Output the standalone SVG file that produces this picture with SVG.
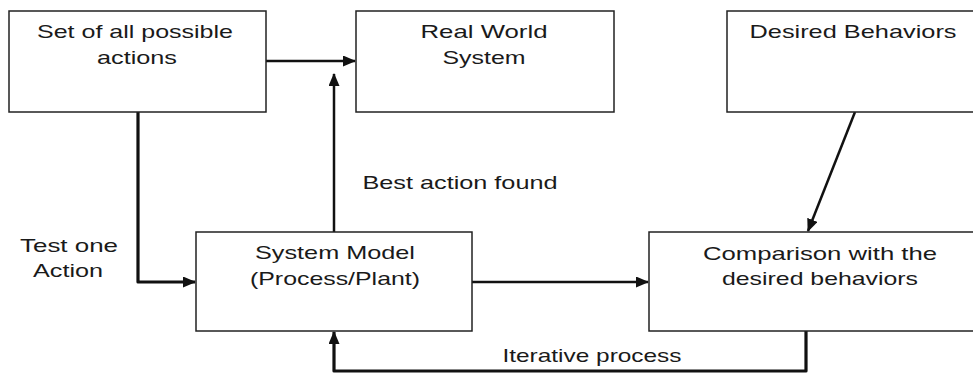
<svg xmlns="http://www.w3.org/2000/svg" width="973" height="374" viewBox="0 0 973 374">
  <style>
    .box { fill: #ffffff; stroke: #222222; stroke-width: 1.5; }
    .lbl { font-family: "Liberation Sans", Arial, sans-serif; font-size: 18.5px; fill: #1a1a1a; text-anchor: middle; }
    .wire { fill: none; stroke: #111111; stroke-width: 2.5; stroke-linejoin: round; }
    .heavy { stroke-width: 3.2; }
  </style>
  <defs>
    <marker id="head" viewBox="0 0 13 11" refX="12" refY="5.5" markerWidth="13" markerHeight="11" markerUnits="userSpaceOnUse" orient="auto">
      <path d="M0,0 L13,5.5 L0,11 Z" fill="#111111"/>
    </marker>
  </defs>
  <rect width="973" height="374" fill="#ffffff"/>

  <!-- arrows between the blocks -->
  <g id="connectors">
    <path class="wire" d="M263,61 H355" marker-end="url(#head)"/>
    <path class="wire" d="M334,232 V74" marker-end="url(#head)"/>
    <path class="wire heavy" d="M138,112 V282 H195" marker-end="url(#head)"/>
    <path class="wire" d="M472,282 H648" marker-end="url(#head)"/>
    <path class="wire heavy" d="M806,331 V371 H334 V332" marker-end="url(#head)"/>
    <path class="wire" d="M855,112 L808,231" marker-end="url(#head)"/>
  </g>

  <g id="actions-set">
    <rect class="box" x="9" y="11" width="257" height="101"/>
    <text class="lbl" x="135" y="38" textLength="196" lengthAdjust="spacingAndGlyphs">Set of all possible</text>
    <text class="lbl" x="137" y="64" textLength="80" lengthAdjust="spacingAndGlyphs">actions</text>
  </g>

  <g id="real-world">
    <rect class="box" x="356" y="11" width="258" height="101"/>
    <text class="lbl" x="484" y="38" textLength="127" lengthAdjust="spacingAndGlyphs">Real World</text>
    <text class="lbl" x="484" y="64" textLength="83" lengthAdjust="spacingAndGlyphs">System</text>
  </g>

  <g id="desired">
    <rect class="box" x="727" y="11" width="260" height="101"/>
    <text class="lbl" x="853" y="38" textLength="207" lengthAdjust="spacingAndGlyphs">Desired Behaviors</text>
  </g>

  <g id="system-model">
    <rect class="box" x="196" y="232" width="276" height="99"/>
    <text class="lbl" x="335" y="259" textLength="160" lengthAdjust="spacingAndGlyphs">System Model</text>
    <text class="lbl" x="335" y="285" textLength="170" lengthAdjust="spacingAndGlyphs">(Process/Plant)</text>
  </g>

  <g id="comparison">
    <rect class="box" x="649" y="232" width="340" height="99"/>
    <text class="lbl" x="820" y="260" textLength="234" lengthAdjust="spacingAndGlyphs">Comparison with the</text>
    <text class="lbl" x="820" y="285" textLength="196" lengthAdjust="spacingAndGlyphs">desired behaviors</text>
  </g>

  <!-- free-standing connector labels -->
  <g id="labels">
    <text class="lbl" x="460" y="189" textLength="195" lengthAdjust="spacingAndGlyphs">Best action found</text>
    <text class="lbl" x="69" y="252" textLength="98" lengthAdjust="spacingAndGlyphs">Test one</text>
    <text class="lbl" x="68" y="277" textLength="70" lengthAdjust="spacingAndGlyphs">Action</text>
    <text class="lbl" x="592" y="362" textLength="179" lengthAdjust="spacingAndGlyphs">Iterative process</text>
  </g>
</svg>
